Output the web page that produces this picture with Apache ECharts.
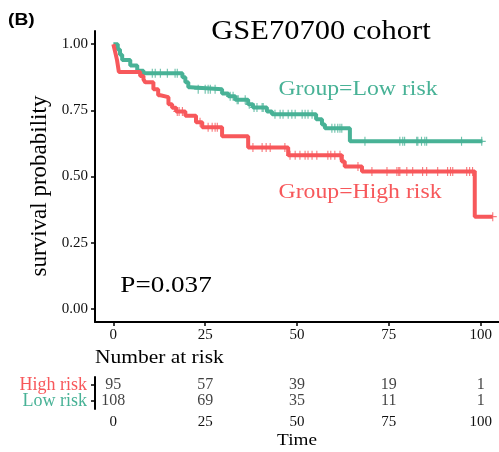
<!DOCTYPE html>
<html>
<head>
<meta charset="utf-8">
<script src="https://cdn.jsdelivr.net/npm/echarts@6/dist/echarts.min.js"></script>
<style>
html, body { margin: 0; padding: 0; background: #fff; }
#main { width: 499px; height: 452px; }
</style>
</head>
<body>
<div id="main"></div>
<script>
// KM curve, low risk group (time, survival after step)
var lowTime = [0, 1.2, 1.8, 2.4, 4.6, 6.5, 8.2, 18.8, 19.6, 20.4, 21, 29.6, 31.3, 33.2, 36.7, 38, 41.8, 43.2, 55.2, 56.8, 57.6, 64.4, 100.5];
var lowSurv = [1, 0.98, 0.96, 0.94, 0.92, 0.90, 0.89, 0.875, 0.856, 0.837, 0.83, 0.814, 0.803, 0.79, 0.773, 0.761, 0.746, 0.735, 0.716, 0.697, 0.682, 0.633, 0.633];
var lowCensor = [10.6, 11.4, 12.8, 14.7, 16.8, 17.4, 23.1, 25.0, 25.8, 26.4, 27.7, 31.8, 32.6, 33.7, 34.0, 35.9, 37.0, 38.3, 39.1, 40.5, 40.8, 44.0, 45.4, 46.2, 47.6, 48.6, 49.5, 51.4, 52.2, 53.0, 54.1, 59.5, 60.3, 61.1, 61.7, 62.2, 68.5, 78.0, 78.8, 79.3, 82.6, 82.9, 83.9, 84.8, 85.3, 94.8, 100.3];

// KM curve, high risk group
var highTime = [0, 0.5, 1, 1.5, 7.3, 8.2, 8.7, 10.9, 12.2, 12.8, 15, 16, 17.1, 19.6, 22.5, 24.2, 29.6, 36.7, 47.6, 62.2, 63.0, 67.7, 98.4, 103.3];
var highSurv = [1, 0.97, 0.94, 0.895, 0.88, 0.867, 0.856, 0.83, 0.807, 0.80, 0.773, 0.76, 0.746, 0.73, 0.705, 0.686, 0.652, 0.61, 0.58, 0.557, 0.538, 0.519, 0.348, 0.348];
var highCensor = [17.4, 17.9, 18.8, 23.6, 25.8, 26.9, 27.7, 28.3, 38.0, 40.5, 41.6, 42.7, 46.7, 48.1, 49.5, 50.8, 52.2, 53.0, 54.1, 55.4, 58.4, 59.2, 60.3, 61.7, 66.6, 70.4, 74.5, 77.2, 77.7, 78.0, 79.9, 81.5, 84.2, 85.3, 88.3, 91.0, 91.8, 92.4, 96.2, 97.0, 97.8, 103.3];

// number at risk table
var riskTimes = [0, 25, 50, 75, 100];
var riskHigh = [95, 57, 39, 19, 1];
var riskLow = [108, 69, 35, 11, 1];

var xTicks = [0, 25, 50, 75, 100];
var yTicks = [0, 0.25, 0.5, 0.75, 1];

var red = '#F7585B';
var teal = '#48B296';
var serif = 'Liberation Serif';
var plus = 'path://M0.43,0h0.14v0.43h0.43v0.14h-0.43v0.43h-0.14v-0.43h-0.43v-0.14h0.43z';

function pairs(t, s) {
	var out = [];
	for (var i = 0; i < t.length; i++) out.push([t[i], s[i]]);
	return out;
}

// look up the curve value at a censor time
function survAt(t, s, x) {
	var v = s[0];
	for (var i = 0; i < t.length; i++) {
		if (t[i] <= x) v = s[i];
	}
	return v;
}

function censorPts(ct, t, s) {
	return ct.map(function(x) { return [x, survAt(t, s, x)]; });
}

function riskPts(vals, name) {
	return riskTimes.map(function(x, i) { return [x, name, vals[i]]; });
}

function txt(x, y, str, size, color, extra) {
	var o = {
		type: 'text', x: x, y: y, scaleX: 1.13,
		style: { text: str, font: size + 'px "' + serif + '"', fill: color, textAlign: 'center', textVerticalAlign: 'middle' }
	};
	for (var k in extra) o.style[k] = extra[k];
	return o;
}

var lineStyle = { color: '#000', width: 2 };
var tickStyle = { color: '#000', width: 1.5 };

var option = {
	animation: false,
	grid: [
		{ left: 95, right: 0, top: 31, height: 291 },
		{ left: 95, right: 0, top: 377, height: 32 }
	],
	xAxis: [{
		gridIndex: 0, type: 'value', min: -5, max: 105,
		axisLine: { onZero: false, lineStyle: lineStyle }, splitLine: { show: false },
		axisTick: { length: 4, lineStyle: tickStyle, customValues: xTicks },
		axisLabel: { customValues: xTicks, color: '#111', fontFamily: serif, fontSize: 15, margin: 6 }
	}, {
		gridIndex: 1, type: 'value', min: -5, max: 105,
		axisLine: { onZero: false, lineStyle: lineStyle }, splitLine: { show: false },
		axisTick: { length: 4, lineStyle: tickStyle, customValues: xTicks },
		axisLabel: { customValues: xTicks, color: '#111', fontFamily: serif, fontSize: 15, margin: 6 }
	}],
	yAxis: [{
		gridIndex: 0, type: 'value', min: -0.05, max: 1.05,
		axisLine: { show: true, onZero: false, lineStyle: lineStyle }, splitLine: { show: false },
		axisTick: { show: true, length: 4, lineStyle: tickStyle, customValues: yTicks },
		axisLabel: {
			customValues: yTicks, color: '#111', fontFamily: serif, fontSize: 15, margin: 7,
			formatter: function(v) { return v.toFixed(2); }
		}
	}, {
		gridIndex: 1, type: 'category', data: ['Low risk', 'High risk'],
		axisLine: { show: true, onZero: false, lineStyle: lineStyle },
		axisTick: { show: true, alignWithLabel: true, interval: 0, length: 4, lineStyle: tickStyle },
		axisLabel: {
			interval: 0, fontFamily: serif, fontSize: 18, margin: 8,
			color: function(v) { return v === 'High risk' ? red : teal; }
		}
	}],
	series: [{
		name: 'Low risk', type: 'line', step: 'end', xAxisIndex: 0, yAxisIndex: 0,
		data: pairs(lowTime, lowSurv), showSymbol: false,
		lineStyle: { color: teal, width: 4 }, z: 2
	}, {
		name: 'High risk', type: 'line', step: 'end', xAxisIndex: 0, yAxisIndex: 0,
		data: pairs(highTime, highSurv), showSymbol: false,
		lineStyle: { color: red, width: 4 }, z: 3
	}, {
		type: 'scatter', xAxisIndex: 0, yAxisIndex: 0,
		data: censorPts(lowCensor, lowTime, lowSurv),
		symbol: plus, symbolSize: [8, 9], itemStyle: { color: teal, opacity: 0.8 }, z: 4
	}, {
		type: 'scatter', xAxisIndex: 0, yAxisIndex: 0,
		data: censorPts(highCensor, highTime, highSurv),
		symbol: plus, symbolSize: [8, 9], itemStyle: { color: red, opacity: 0.8 }, z: 5
	}, {
		type: 'scatter', xAxisIndex: 1, yAxisIndex: 1,
		data: riskPts(riskHigh, 'High risk').concat(riskPts(riskLow, 'Low risk')),
		symbolSize: 0,
		label: {
			show: true, position: 'inside', color: '#111', fontFamily: serif, fontSize: 16,
			formatter: function(p) { return p.value[2]; }
		}
	}],
	graphic: [
		{
			type: 'text', x: 8, y: 20, scaleX: 1.13,
			style: { text: '(B)', font: 'bold 17px "Liberation Sans"', fill: '#000', textVerticalAlign: 'middle' }
		},
		txt(321, 32, 'GSE70700 cohort', 27, '#000'),
		txt(358, 89, 'Group=Low risk', 21, teal),
		txt(360, 192, 'Group=High risk', 21, red),
		txt(166, 286, 'P=0.037', 24, '#000'),
		txt(95, 358, 'Number at risk', 19, '#000', { textAlign: 'left' }),
		txt(297, 441, 'Time', 17, '#000'),
		{
			type: 'text', x: 40, y: 186, rotation: Math.PI / 2,
			style: { text: 'survival probability', font: '23px "' + serif + '"', fill: '#000', textAlign: 'center', textVerticalAlign: 'middle' }
		}
	]
};

var chart = echarts.init(document.getElementById('main'));
chart.setOption(option);
</script>
</body>
</html>
